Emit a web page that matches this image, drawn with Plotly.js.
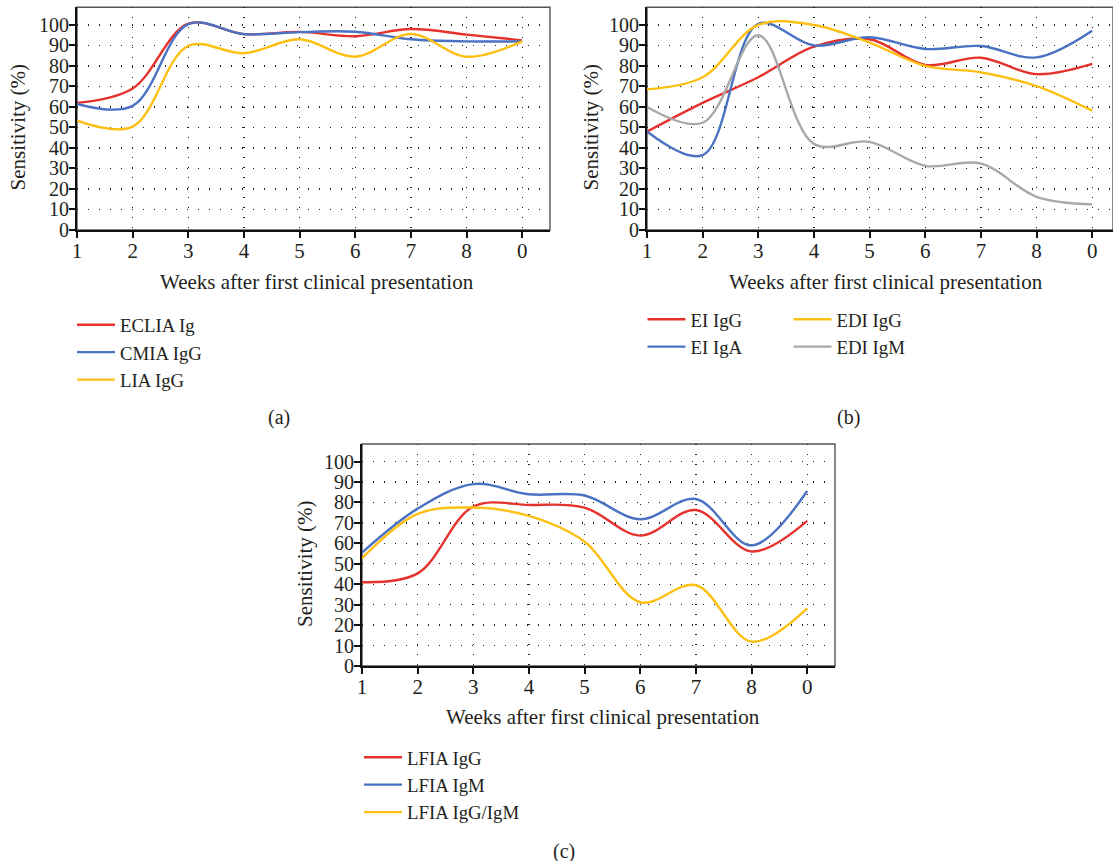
<!DOCTYPE html>
<html>
<head>
<meta charset="utf-8">
<script src="https://cdn.plot.ly/plotly-3.0.1.min.js"></script>
<style>
html,body{margin:0;padding:0;background:#fff;}
#chart{width:1113px;height:861px;}
</style>
</head>
<body>
<div id="chart"></div>
<script>
// ---------- data ----------
const weeks = [1, 2, 3, 4, 5, 6, 7, 8, 9];
const weekLabels = ['1', '2', '3', '4', '5', '6', '7', '8', '0'];
const yTickVals = [0, 10, 20, 30, 40, 50, 60, 70, 80, 90, 100];

// panel (a)
const ecliaIg  = [62, 69, 100.6, 95.5, 96.6, 94.5, 98, 95.3, 92.5];
const cmiaIgG  = [61.5, 60.5, 100.4, 95.5, 96.5, 96.7, 93, 92, 92];
const liaIgG   = [53.3, 50.4, 89.8, 86.2, 93, 84.5, 95.6, 84.5, 92];

// panel (b)
const eiIgG  = [48, 62, 74.5, 89.4, 93, 80.5, 84, 76, 81];
const eiIgA  = [48, 36.5, 100.5, 90, 94, 88.3, 89.7, 84.2, 97.2];
const ediIgG = [68.6, 74.5, 100, 100, 91.4, 80, 76.9, 70.2, 58.2];
const ediIgM = [60, 52.3, 95, 42, 43, 31.3, 32.4, 16.2, 12.5];

// panel (c)
const lfiaIgG     = [41, 45.3, 78, 78.8, 77.5, 63.8, 76.3, 56, 71];
const lfiaIgM     = [55.5, 77, 89, 84, 83.4, 71.8, 81.7, 59, 85.6];
const lfiaIgGIgM  = [52.7, 74.4, 77.5, 73.4, 60.8, 31.2, 39.5, 11.9, 28.2];

const xTitle = 'Weeks after first clinical presentation';
const yTitle = 'Sensitivity (%)';

// ---------- styling ----------
const W = 1113, H = 861;
const px = v => v / W;
const py = v => 1 - v / H;
const RED = '#e5322d', BLUE = '#4a72c3', YEL = '#fdbf12', GRAY = '#a8a8a8';
const FONT = 'Liberation Serif, Times New Roman, serif';
const TXT = '#231f20';

function line(x, y, name, color, xa, ya, leg) {
  return {x: x, y: y, name: name, type: 'scatter', mode: 'lines',
    line: {color: color, width: 2.4, shape: 'spline', smoothing: 1},
    xaxis: xa, yaxis: ya, legend: leg, hoverinfo: 'skip'};
}

const traces = [
  line(weeks, ecliaIg, 'ECLIA Ig', RED, 'x', 'y', 'legend'),
  line(weeks, cmiaIgG, 'CMIA IgG', BLUE, 'x', 'y', 'legend'),
  line(weeks, liaIgG, 'LIA IgG', YEL, 'x', 'y', 'legend'),
  line(weeks, eiIgG, 'EI IgG', RED, 'x2', 'y2', 'legend2'),
  line(weeks, eiIgA, 'EI IgA', BLUE, 'x2', 'y2', 'legend2'),
  line(weeks, ediIgG, 'EDI IgG', YEL, 'x2', 'y2', 'legend3'),
  line(weeks, ediIgM, 'EDI IgM', GRAY, 'x2', 'y2', 'legend3'),
  line(weeks, lfiaIgG, 'LFIA IgG', RED, 'x3', 'y3', 'legend4'),
  line(weeks, lfiaIgM, 'LFIA IgM', BLUE, 'x3', 'y3', 'legend4'),
  line(weeks, lfiaIgGIgM, 'LFIA IgG/IgM', YEL, 'x3', 'y3', 'legend4')
];

function xAxis(d0, d1, r1, anchor) {
  return {domain: [px(d0), px(d1)], range: [1, r1], anchor: anchor,
    tickmode: 'array', tickvals: weeks, ticktext: weekLabels,
    showline: true, linecolor: '#111', linewidth: 2,
    ticks: 'outside', ticklen: 6, tickwidth: 2, tickcolor: '#111',
    ticklabelstandoff: -5,
    showgrid: true, gridcolor: '#222', gridwidth: 1.3, griddash: '1px,9px',
    zeroline: false, fixedrange: true,
    tickfont: {family: FONT, size: 21, color: TXT}};
}
function yAxis(t, b, anchor) {
  return {domain: [py(b), py(t)], range: [0, 108.6], anchor: anchor,
    tickmode: 'array', tickvals: yTickVals,
    showline: true, linecolor: '#111', linewidth: 2,
    ticks: 'outside', ticklen: 6, tickwidth: 2, tickcolor: '#111',
    ticklabelstandoff: -4,
    showgrid: true, gridcolor: '#222', gridwidth: 1.3, griddash: '1px,10px',
    zeroline: false, fixedrange: true,
    tickfont: {family: FONT, size: 20, color: TXT}};
}

function frame(xr, yr) {
  return {type: 'rect', xref: xr + ' domain', yref: yr + ' domain',
    x0: 0, x1: 1, y0: 0, y1: 1, line: {color: '#555', width: 1.4}, layer: 'below'};
}

function legendAt(x, y) {
  return {x: px(x), y: py(y), xanchor: 'left', yanchor: 'top',
    bgcolor: 'rgba(0,0,0,0)', font: {family: FONT, size: 18.8, color: TXT},
    tracegroupgap: 0, itemwidth: 38};
}

function ann(text, x, y, opts) {
  return Object.assign({text: text, xref: 'paper', yref: 'paper', x: px(x), y: py(y),
    showarrow: false, xanchor: 'center', yanchor: 'middle',
    font: {family: FONT, size: 21, color: TXT}}, opts || {});
}

const layout = {
  width: W, height: H,
  margin: {l: 0, r: 0, t: 0, b: 0},
  paper_bgcolor: '#fff', plot_bgcolor: '#fff',
  showlegend: true,
  xaxis: xAxis(77, 550, 9.5, 'y'),
  yaxis: yAxis(7.3, 230, 'x'),
  xaxis2: xAxis(647, 1113, 9.374, 'y2'),
  yaxis2: yAxis(7.3, 230, 'x2'),
  xaxis3: xAxis(362, 835, 9.5, 'y3'),
  yaxis3: yAxis(444, 666, 'x3'),
  legend: legendAt(72, 306),
  legend2: legendAt(642.5, 300.5),
  legend3: legendAt(788.5, 300.5),
  legend4: legendAt(359, 738.5),
  shapes: [frame('x', 'y'), frame('x2', 'y2'), frame('x3', 'y3')],
  annotations: [
    ann(xTitle, 317, 282),
    ann(xTitle, 886, 282),
    ann(xTitle, 603, 717),
    ann(yTitle, 17, 127.5, {textangle: -90}),
    ann(yTitle, 590, 127.5, {textangle: -90}),
    ann(yTitle, 305, 564, {textangle: -90}),
    ann('(a)', 279, 417, {font: {family: FONT, size: 20, color: TXT}}),
    ann('(b)', 848, 417, {font: {family: FONT, size: 20, color: TXT}}),
    ann('(c)', 564, 851, {font: {family: FONT, size: 20, color: TXT}})
  ]
};

Plotly.newPlot('chart', traces, layout, {displayModeBar: false, staticPlot: true});
</script>
</body>
</html>
